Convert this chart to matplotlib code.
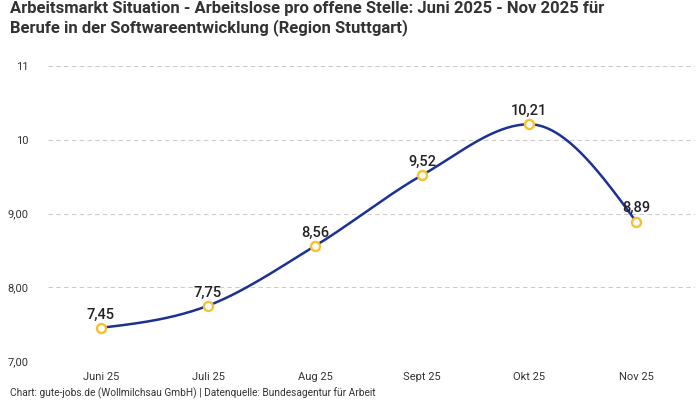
import matplotlib.pyplot as plt
import numpy as np

months = ['Juni 25', 'Juli 25', 'Aug 25', 'Sept 25', 'Okt 25', 'Nov 25']
values = [7.45, 7.75, 8.56, 9.52, 10.21, 8.89]
value_labels = ['7,45', '7,75', '8,56', '9,52', '10,21', '8,89']
y_ticks = [7, 8, 9, 10, 11]
y_tick_labels = ['7,00', '8,00', '9,00', '10', '11']

title = ('Arbeitsmarkt Situation - Arbeitslose pro offene Stelle: Juni 2025 - Nov 2025 für\n'
         'Berufe in der Softwareentwicklung (Region Stuttgart)')
source = 'Chart: gute-jobs.de (Wollmilchsau GmbH) | Datenquelle: Bundesagentur für Arbeit'

line_color = '#1b3193'
marker_color = '#f5c12e'
text_color = '#333333'

plt.rcParams['font.family'] = ['Roboto', 'DejaVu Sans']


def monotone_curve(x, y, n=40):
    # monotone cubic (like d3 curveMonotoneX)
    x = np.asarray(x, float)
    y = np.asarray(y, float)
    h = np.diff(x)
    s = np.diff(y) / h
    m = np.zeros(len(x))
    for i in range(1, len(x) - 1):
        if s[i - 1] * s[i] <= 0:
            m[i] = 0
        else:
            p = (s[i - 1] * h[i] + s[i] * h[i - 1]) / (h[i - 1] + h[i])
            m[i] = np.sign(s[i - 1]) * min(abs(s[i - 1]), abs(s[i]), 0.5 * abs(p)) * 2
    m[0] = (3 * s[0] - m[1]) / 2 if len(x) > 2 else s[0]
    m[-1] = (3 * s[-1] - m[-2]) / 2
    xs, ys = [], []
    for i in range(len(x) - 1):
        t = np.linspace(0, 1, n)
        h00 = 2 * t**3 - 3 * t**2 + 1
        h10 = t**3 - 2 * t**2 + t
        h01 = -2 * t**3 + 3 * t**2
        h11 = t**3 - t**2
        xs.append(x[i] + t * h[i])
        ys.append(h00 * y[i] + h10 * h[i] * m[i] + h01 * y[i + 1] + h11 * h[i] * m[i + 1])
    return np.concatenate(xs), np.concatenate(ys)


fig = plt.figure(figsize=(7, 4), dpi=100)
ax = fig.add_axes([48 / 700, 1 - 361 / 400, 647 / 700, 295 / 400])

xpos = np.arange(len(months))
cx, cy = monotone_curve(xpos, values)
ax.plot(cx, cy, color=line_color, lw=1.8, zorder=3)
ax.plot(xpos, values, 'o', ms=6.5, mfc='white', mec=marker_color, mew=1.7, zorder=4)

for xi, v, lab in zip(xpos, values, value_labels):
    ax.annotate(lab, (xi, v), xytext=(0, 4.5), textcoords='offset points',
                ha='center', va='bottom', fontsize=10.5, fontweight='medium',
                color='#222222', zorder=5)

ax.set_xlim(-0.495, 5.55)
ax.set_ylim(7, 11)
ax.set_yticks(y_ticks)
ax.set_yticklabels(y_tick_labels)
ax.set_xticks(xpos)
ax.set_xticklabels(months)
ax.grid(axis='y', color='#cccccc', linestyle=(0, (4, 3)), lw=0.8)
ax.tick_params(length=0, labelsize=8, colors=text_color)
ax.tick_params(axis='y', pad=14)
ax.tick_params(axis='x', pad=8)
for sp in ax.spines.values():
    sp.set_visible(False)

fig.text(10 / 700, 1 - 1 / 400, title, ha='left', va='top', fontsize=12,
         fontweight='bold', color=text_color, linespacing=1.2)
fig.text(10 / 700, 1 - 393 / 400, source, ha='left', va='center', fontsize=7.3,
         color=text_color)

fig.savefig('out.png', dpi=100)
